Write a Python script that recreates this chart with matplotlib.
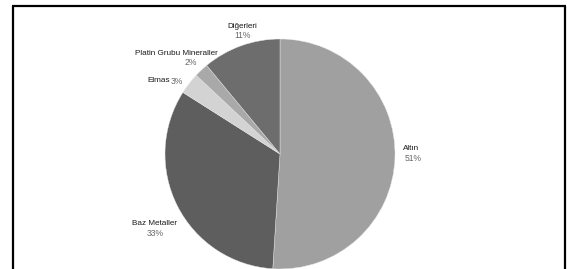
import matplotlib
matplotlib.use("Agg")
import matplotlib.pyplot as plt
from matplotlib.lines import Line2D

plt.rcParams['font.family'] = ['Liberation Sans', 'DejaVu Sans']

categories = ["Altın", "Baz Metaller", "Elmas", "Platin Grubu Mineraller", "Diğerleri"]
values = [51, 33, 3, 2, 11]
pct_labels = ["51%", "33%", "3%", "2%", "11%"]

colors = ["#a0a0a0", "#5e5e5e", "#d3d3d3", "#a9a9a9", "#6d6d6d"]

W, H = 567, 269
fig = plt.figure(figsize=(W / 100, H / 100), dpi=100)
ax = fig.add_axes([0, 0, 1, 1])

ax.pie(values, colors=colors, startangle=90, counterclock=False,
       center=(280, H - 154), radius=115,
       wedgeprops=dict(edgecolor="#e8e8e8", linewidth=0.3))
ax.set_xlim(0, W)
ax.set_ylim(0, H)
ax.set_aspect("equal", adjustable="box")
ax.axis("off")

name_col = "#1a1a1a"
pct_col = "#6a6a6a"
fs_name = 5.9
fs_pct = 6.2

# label layout (pixel coords, y from top): (name_x, name_y, pct_x, pct_y, ha)
layout = {
    "Altın": (402.5, 148.5, 405, 158.5, "left"),
    "Baz Metaller": (154, 223.5, 155.5, 233, "center"),
    "Platin Grubu Mineraller": (176.7, 53.3, 191, 62.5, "center"),
    "Diğerleri": (242.3, 26, 242.5, 35.3, "center"),
}
for cat, pct in zip(categories, pct_labels):
    if cat == "Elmas":
        ax.text(170, H - 81, cat, ha="right", va="center", fontsize=fs_name, color=name_col)
        ax.text(171, H - 81.5, pct, ha="left", va="center", fontsize=fs_pct, color=pct_col)
        continue
    nx, ny, px, py, ha = layout[cat]
    ax.text(nx, H - ny, cat, ha=ha, va="center", fontsize=fs_name, color=name_col)
    ax.text(px, H - py, pct, ha=ha, va="center", fontsize=fs_pct, color=pct_col)

# border frame
lw = 1.6
for xs, ys in [((13, 13), (0, H - 5.5)), ((12.3, 566), (H - 5.5, H - 5.5)), ((565.3, 565.3), (0, H - 5.5))]:
    ax.add_line(Line2D(xs, ys, color="black", linewidth=lw, solid_capstyle="butt"))

fig.savefig("out.png", dpi=100, facecolor="white")
